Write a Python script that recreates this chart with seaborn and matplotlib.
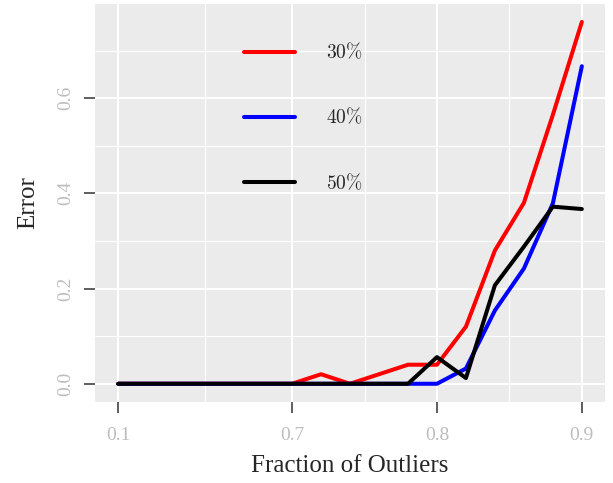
import matplotlib
matplotlib.use("Agg")
import matplotlib.pyplot as plt
import pandas as pd
import seaborn as sns

# x positions are categories: coarse steps up to 0.7, then fine steps of 0.02
fractions = ["0.1", "0.2", "0.3", "0.4", "0.5", "0.6", "0.7", "0.72", "0.74",
             "0.76", "0.78", "0.8", "0.82", "0.84", "0.86", "0.88", "0.9"]
err_30 = [0, 0, 0, 0, 0, 0, 0, 0.02, 0, 0.02, 0.04, 0.04, 0.12, 0.28, 0.38, 0.565, 0.76]
err_40 = [0, 0, 0, 0, 0, 0, 0, 0, 0, 0, 0, 0, 0.032, 0.154, 0.242, 0.379, 0.667]
err_50 = [0, 0, 0, 0, 0, 0, 0, 0, 0, 0, 0, 0.056, 0.012, 0.207, 0.288, 0.372, 0.367]
settings = ["30%", "40%", "50%"]
colors = ["red", "blue", "black"]
shown_ticks = ["0.1", "0.7", "0.8", "0.9"]
y_ticks = [0.0, 0.2, 0.4, 0.6]
y_minor = [0.1, 0.3, 0.5, 0.7]

df = pd.DataFrame({
    "Fraction": fractions * 3,
    "Error": err_30 + err_40 + err_50,
    "Setting": [s for s in settings for _ in fractions],
})

sns.set_theme(style="darkgrid", rc={"axes.facecolor": "#EBEBEB",
                                    "grid.color": "white"})
plt.rcParams["font.family"] = ["Liberation Serif", "DejaVu Serif"]
plt.rcParams["mathtext.fontset"] = "cm"

fig, ax = plt.subplots(figsize=(6.13, 4.83), dpi=100)
fig.subplots_adjust(left=0.155, right=0.987, top=0.992, bottom=0.168)

sns.lineplot(data=df, x="Fraction", y="Error", hue="Setting",
             palette=colors, linewidth=2.9, sort=False, errorbar=None, ax=ax)

ax.set_xlim(-0.8, len(fractions) - 1 + 0.8)
ax.set_ylim(-0.038, 0.798)

major_x = [fractions.index(t) for t in shown_ticks]
ax.set_xticks(major_x)
ax.set_xticklabels(shown_ticks)
ax.set_xticks([(a + b) / 2 for a, b in zip(major_x[:-1], major_x[1:])], minor=True)
ax.set_yticks(y_ticks)
ax.set_yticklabels([f"{v:.1f}" for v in y_ticks], rotation=90, va="center")
ax.set_yticks(y_minor, minor=True)

ax.grid(which="major", color="white", linewidth=1.5)
ax.grid(which="minor", color="white", linewidth=0.8)
ax.tick_params(which="major", bottom=True, left=True, length=8, width=1.1,
               color="#333333", labelcolor="#BDBDBD", labelsize=14)
ax.tick_params(axis="x", which="major", pad=10)
ax.tick_params(axis="y", which="major", pad=7)
ax.tick_params(which="minor", length=0)
for s in ax.spines.values():
    s.set_visible(False)

ax.set_xlabel("Fraction of Outliers", fontsize=18, labelpad=8)
ax.set_ylabel("Error", fontsize=18, labelpad=13)

handles, labels = ax.get_legend_handles_labels()
ax.legend(handles, [rf"${l[:-1]}\%$" for l in labels], loc="upper left",
          bbox_to_anchor=(0.274, 0.929), frameon=False, fontsize=14,
          handlelength=2.6, handletextpad=1.6, labelspacing=2.3, borderpad=0)

fig.savefig("out.png", dpi=100)
